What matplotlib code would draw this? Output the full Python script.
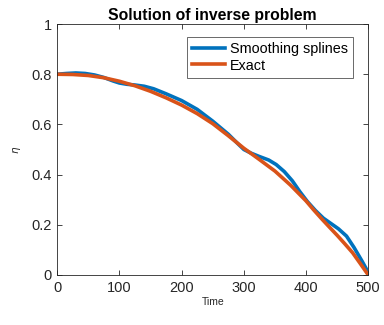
import matplotlib
matplotlib.use("Agg")
import matplotlib.pyplot as plt

# Time samples and solution values
t_exact = [0, 25, 50, 75, 100, 125, 150, 175, 200, 225, 250, 275, 300,
           325, 350, 375, 400, 412, 425, 437, 450, 462, 475, 487, 500]
eta_exact = [0.800, 0.799, 0.795, 0.786, 0.772, 0.754, 0.732, 0.706, 0.677,
             0.643, 0.603, 0.555, 0.505, 0.460, 0.414, 0.358, 0.295, 0.260,
             0.224, 0.192, 0.158, 0.125, 0.088, 0.046, 0.000]

t_spline = [0, 15, 30, 45, 60, 75, 90, 100, 112, 125, 140, 155, 175, 200,
            225, 250, 275, 290, 300, 312, 325, 340, 352, 365, 378, 390, 402,
            415, 428, 440, 452, 465, 477, 490, 500]
eta_spline = [0.800, 0.803, 0.805, 0.803, 0.797, 0.787, 0.773, 0.765, 0.760,
              0.757, 0.752, 0.742, 0.722, 0.695, 0.660, 0.613, 0.561, 0.524,
              0.500, 0.485, 0.472, 0.458, 0.440, 0.412, 0.375, 0.332, 0.293,
              0.257, 0.226, 0.205, 0.184, 0.155, 0.110, 0.055, 0.010]

xticks = [0, 100, 200, 300, 400, 500]
yticks = [0, 0.2, 0.4, 0.6, 0.8, 1]
ytick_labels = ["0", "0.2", "0.4", "0.6", "0.8", "1"]

plt.rcParams['font.family'] = ['Liberation Sans', 'DejaVu Sans']
axis_col = '#262626'

fig = plt.figure(figsize=(3.84, 3.25), dpi=100)
ax = fig.add_axes([0.149, 0.154, 0.810, 0.772])

ax.plot(t_spline, eta_spline, color='#0072BD', lw=2.6,
        label='Smoothing splines', solid_joinstyle='round')
ax.plot(t_exact, eta_exact, color='#D95319', lw=2.6,
        label='Exact', solid_joinstyle='round')

ax.set_xlim(0, 500)
ax.set_ylim(0, 1)
ax.set_xticks(xticks)
ax.set_yticks(yticks)
ax.set_yticklabels(ytick_labels)
ax.tick_params(direction='in', length=3.5, width=0.6, top=True, right=True,
               labelsize=10.5, colors=axis_col, pad=4)
for s in ax.spines.values():
    s.set_color(axis_col)
    s.set_linewidth(0.6)

ax.set_title('Solution of inverse problem', fontsize=11.3, fontweight='bold',
             pad=3, color='black')
ax.set_xlabel('Time', fontsize=7.5, labelpad=2, color=axis_col)
ax.set_ylabel(r'$\eta$', fontsize=7.5, labelpad=6, color=axis_col)

leg = ax.legend(loc='upper right', bbox_to_anchor=(0.95, 0.95), fontsize=10.4,
                frameon=True, fancybox=False, handlelength=2.3,
                handletextpad=0.3, borderpad=0.35, labelspacing=0.2,
                borderaxespad=0.0)
leg.get_frame().set_edgecolor(axis_col)
leg.get_frame().set_linewidth(0.6)

fig.savefig('out.png', dpi=100)
